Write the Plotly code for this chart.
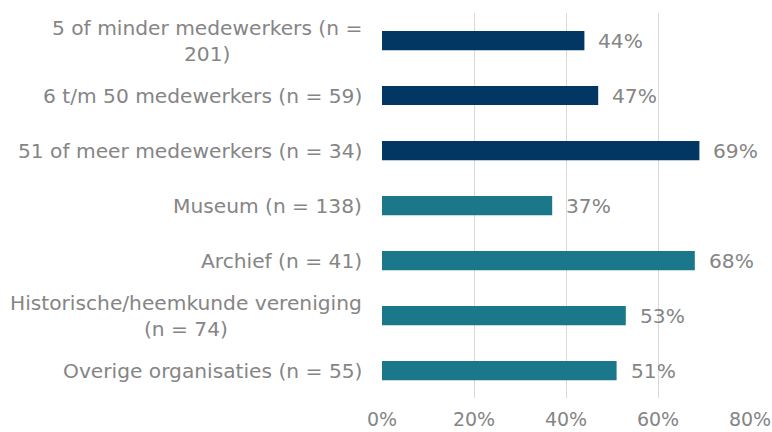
import plotly.graph_objects as go

categories = [
    "5 of minder medewerkers (n =<br>201)",
    "6 t/m 50 medewerkers (n = 59)",
    "51 of meer medewerkers (n = 34)",
    "Museum (n = 138)",
    "Archief (n = 41)",
    "Historische/heemkunde vereniging<br>(n = 74)",
    "Overige organisaties (n = 55)",
]
values = [0.44, 0.47, 0.69, 0.37, 0.68, 0.53, 0.51]
NAVY = "#023763"
TEAL = "#1a788a"
colors = [NAVY, NAVY, NAVY, TEAL, TEAL, TEAL, TEAL]
x_ticks = [0, 0.2, 0.4, 0.6, 0.8]

FONT = "DejaVu Sans"
GREY = "#858585"
FSIZE = 20.2

fig = go.Figure()
fig.add_trace(go.Bar(
    y=categories, x=values, orientation="h",
    marker=dict(color=colors, line=dict(width=0)),
    width=0.35,
    hoverinfo="skip",
))

# value labels right of each bar
for cat, v in zip(categories, values):
    fig.add_annotation(
        x=v, y=cat, xref="x", yref="y",
        text=f"{round(v * 100)}%", showarrow=False,
        xanchor="left", xshift=12,
        font=dict(family=FONT, size=FSIZE, color=GREY),
    )
    # category labels, centred lines like the original
    fig.add_annotation(
        x=0, y=cat, xref="x", yref="y",
        text=cat, showarrow=False,
        xanchor="right", xshift=-18, align="center",
        font=dict(family=FONT, size=FSIZE, color=GREY),
    )

fig.update_layout(
    width=772, height=432,
    plot_bgcolor="white", paper_bgcolor="white",
    showlegend=False,
    margin=dict(l=382, r=22, t=13, b=34),
    xaxis=dict(
        range=[0, 0.8], tickvals=x_ticks, tickformat=".0%",
        showgrid=True, gridcolor="#d9d9d9", gridwidth=1,
        zeroline=False, showline=False, automargin=False,
        tickfont=dict(family=FONT, size=19, color=GREY),
        ticks="", ticklen=0, ticklabelstandoff=8,
    ),
    yaxis=dict(
        categoryorder="array", categoryarray=categories,
        autorange="reversed",
        showticklabels=False, showgrid=False, zeroline=False,
    ),
)

# drop the default 8px body margin so the figure fills the window exactly
fig.write_html(
    "out.html",
    config={"displayModeBar": False},
    post_script="document.body.style.margin = '0';",
)
